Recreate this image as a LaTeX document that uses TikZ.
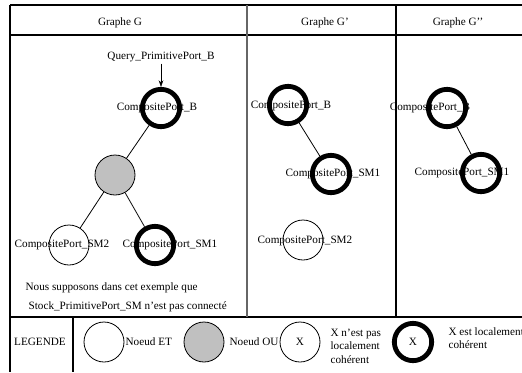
\documentclass[tikz,border=0pt]{standalone}
\usepackage{fontspec}
\setmainfont{Liberation Serif}
\usetikzlibrary{arrows.meta}
\definecolor{ougray}{RGB}{192,192,192}

\begin{document}
\begin{tikzpicture}[x=0.75pt, y=-0.75pt,
    txt/.style={font=\fontsize{8.4}{10}\selectfont, inner sep=1pt},
    etnode/.style={circle, draw, line width=0.6pt, minimum size=30pt, inner sep=0pt},
    ounode/.style={etnode, fill=ougray},
    cohnode/.style={circle, draw, line width=3.6pt, minimum size=28pt, inner sep=0pt, font=\fontsize{8.4}{10}\selectfont},
    frame/.style={line width=0.8pt}]
    \useasboundingbox (0,0) rectangle (522,372);
    % cadre du tableau
    \draw[frame] (10,5) -- (522,5);
    \draw[frame] (10,35) -- (522,35);
    \draw[frame] (10,317) -- (522,317);
    \draw[frame] (10,5) -- (10,372);
    \draw[line width=1.3pt, color=black!60] (247,5) -- (247,317);
    \draw[frame] (396,5) -- (396,317);
    \draw[frame] (73,317) -- (73,372);
    % titres
    \node[txt] (titreG) at (120,23) {Graphe G};
    \node[txt] (titreGp) at (325,23) {Graphe G’};
    \node[txt] (titreGpp) at (458,23) {Graphe G’’};
    % Graphe G
    \node[txt] (query) at (161,57) {Query\_PrimitivePort\_B};
    \node[txt] (lblGB) at (157,108) {CompositePort\_B};
    \node[txt] (lblGSMb) at (62,245) {CompositePort\_SM2};
    \node[txt] (lblGSMa) at (170,245) {CompositePort\_SM1};
    \node[cohnode] (gB) at (161,108) {};
    \node[ounode] (gOU) at (115,175) {};
    \node[etnode] (gSMb) at (69,245) {};
    \node[cohnode] (gSMa) at (155,245) {};
    \draw[-{Stealth[length=5pt,width=3.5pt]}] (query) -- (gB);
    \draw[line width=0.6pt] (gB) -- (gOU);
    \draw[line width=0.6pt] (gOU) -- (gSMb);
    \draw[line width=0.6pt] (gOU) -- (gSMa);
    \node[txt, anchor=west] (rem1) at (24,288) {Nous supposons dans cet exemple que};
    \node[txt, anchor=west] (rem2) at (27,307) {Stock\_PrimitivePort\_SM n’est pas connecté};
    % Graphe G'
    \node[txt] (lblPB) at (291,106) {CompositePort\_B};
    \node[txt] (lblPSMa) at (333,174) {CompositePort\_SM1};
    \node[txt] (lblPSMb) at (305,241) {CompositePort\_SM2};
    \node[cohnode] (pB) at (288,105) {};
    \node[cohnode] (pSMa) at (331,174) {};
    \node[etnode] (pSMb) at (303,240) {};
    \draw[line width=0.6pt] (pB) -- (pSMa);
    % Graphe G''
    \node[txt] (lblQB) at (430,108) {CompositePort\_B};
    \node[txt] (lblQSMa) at (462,173) {CompositePort\_SM1};
    \node[cohnode] (qB) at (447,108) {};
    \node[cohnode] (qSMa) at (481,173) {};
    \draw[line width=0.6pt] (qB) -- (qSMa);
    % legende
    \node[txt] (legende) at (40,342) {LEGENDE};
    \node[etnode] (legET) at (104,342) {};
    \node[txt, anchor=west] (txtET) at (124,342) {Noeud ET};
    \node[ounode] (legOU) at (204,342) {};
    \node[txt, anchor=west] (txtOU) at (228,342) {Noeud OU};
    \node[etnode, font=\fontsize{8.4}{10}\selectfont] (legNon) at (300,342) {X};
    \node[txt, anchor=west, align=left] (txtNon) at (329,346) {X n’est pas\\localement\\cohérent};
    \node[cohnode] (legCoh) at (413,342) {X};
    \node[txt, anchor=west, align=left] (txtCoh) at (447,338) {X est localement\\cohérent};
\end{tikzpicture}
\end{document}
